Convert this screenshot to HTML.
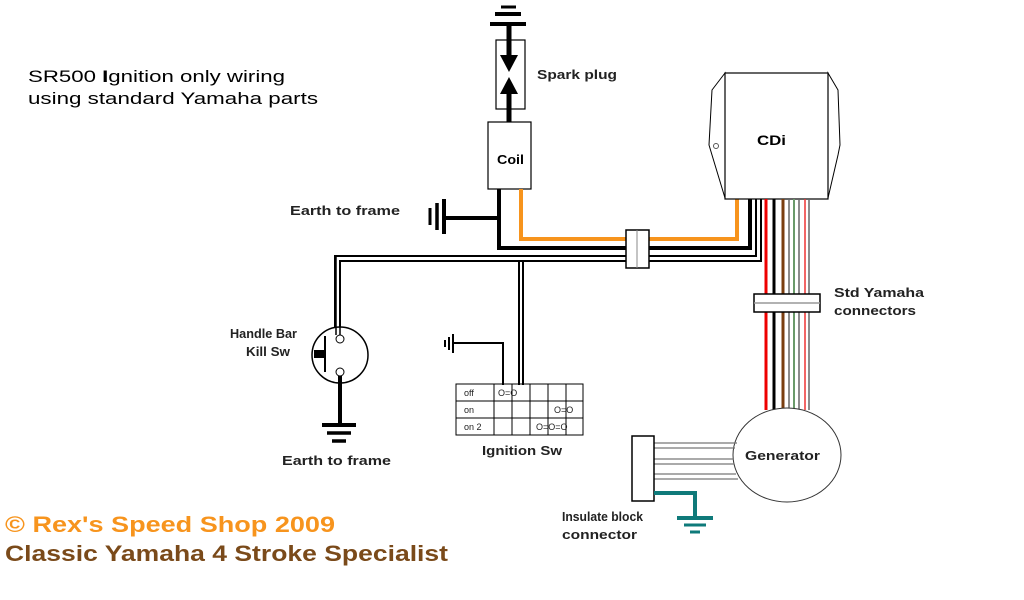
<!DOCTYPE html>
<html><head><meta charset="utf-8"><style>
body{margin:0;background:#fff}
svg{display:block;font-family:"Liberation Sans",sans-serif}
</style></head><body>
<svg width="1024" height="600" viewBox="0 0 1024 600" xmlns="http://www.w3.org/2000/svg">
<rect width="1024" height="600" fill="#fff"/>
<text x="28" y="82" font-size="17" fill="#000" textLength="257" lengthAdjust="spacingAndGlyphs">SR500 <tspan font-weight="bold">I</tspan>gnition only wiring</text>
<text x="28" y="104" font-size="17" fill="#000" textLength="290" lengthAdjust="spacingAndGlyphs">using standard Yamaha parts</text>

<!-- spark plug -->
<line x1="501" y1="7" x2="516" y2="7" stroke="#000" stroke-width="3"/>
<line x1="495" y1="14" x2="521" y2="14" stroke="#000" stroke-width="4"/>
<line x1="490" y1="24" x2="526" y2="24" stroke="#000" stroke-width="4"/>
<line x1="509" y1="24" x2="509" y2="55" stroke="#000" stroke-width="5"/>
<rect x="496" y="40" width="29" height="69" fill="none" stroke="#000" stroke-width="1.2"/>
<polygon points="500,55 518,55 509,72" fill="#000"/>
<polygon points="500,94 518,94 509,77" fill="#000"/>
<line x1="509" y1="92" x2="509" y2="122" stroke="#000" stroke-width="5"/>
<text x="537" y="79" font-size="13" font-weight="bold" fill="#222" textLength="80" lengthAdjust="spacingAndGlyphs">Spark plug</text>

<!-- coil -->
<rect x="488" y="122" width="43" height="67" fill="#fff" stroke="#000" stroke-width="1.2"/>
<text x="497" y="164" font-size="13" font-weight="bold" fill="#000" textLength="27" lengthAdjust="spacingAndGlyphs">Coil</text>

<!-- earth to frame top -->
<text x="290" y="215" font-size="13" font-weight="bold" fill="#222" textLength="110" lengthAdjust="spacingAndGlyphs">Earth to frame</text>
<line x1="430" y1="208" x2="430" y2="225" stroke="#000" stroke-width="3"/>
<line x1="437" y1="203" x2="437" y2="230" stroke="#000" stroke-width="3.5"/>
<line x1="444" y1="199" x2="444" y2="234" stroke="#000" stroke-width="4"/>
<line x1="444" y1="218" x2="499" y2="218" stroke="#000" stroke-width="4"/>

<polyline points="499,189 499,248 750,248 750,198" fill="none" stroke="#000" stroke-width="4"/>
<polyline points="521,189 521,239 737,239 737,198" fill="none" stroke="#f7941d" stroke-width="4"/>
<polyline points="335,335 335,256 756,256 756,198" fill="none" stroke="#000" stroke-width="2"/>
<polyline points="340,335 340,261 761,261 761,198" fill="none" stroke="#000" stroke-width="2"/>
<line x1="519" y1="261" x2="519" y2="385" stroke="#000" stroke-width="2"/>
<line x1="523" y1="261" x2="523" y2="385" stroke="#000" stroke-width="2"/>
<rect x="626" y="230" width="23" height="38" fill="#fff" stroke="#000" stroke-width="1.5"/>
<line x1="637" y1="230" x2="637" y2="268" stroke="#888" stroke-width="1"/>

<!-- CDi -->
<polygon points="725,73 712,90 709,145 712,155 725,198" fill="#fff" stroke="#000" stroke-width="1"/>
<polygon points="828,73 838,90 840,145 838,155 828,198" fill="#fff" stroke="#000" stroke-width="1"/>
<circle cx="716" cy="146" r="2.5" fill="#fff" stroke="#555"/>
<rect x="725" y="73" width="103" height="126" fill="#fff" stroke="#000" stroke-width="1.2"/>
<text x="757" y="145" font-size="14" font-weight="bold" fill="#000" textLength="29" lengthAdjust="spacingAndGlyphs">CDi</text>

<line x1="766" y1="199" x2="766" y2="410" stroke="#e00" stroke-width="3"/>
<line x1="774" y1="199" x2="774" y2="410" stroke="#000" stroke-width="3"/>
<line x1="783" y1="199" x2="783" y2="410" stroke="#7a3e10" stroke-width="3"/>
<line x1="789" y1="199" x2="789" y2="410" stroke="#666" stroke-width="1.5"/>
<line x1="794" y1="199" x2="794" y2="410" stroke="#6a9a6a" stroke-width="2"/>
<line x1="799" y1="199" x2="799" y2="410" stroke="#666" stroke-width="1.5"/>
<line x1="805" y1="199" x2="805" y2="410" stroke="#e33" stroke-width="1.5"/>
<line x1="809" y1="199" x2="809" y2="410" stroke="#666" stroke-width="1.5"/>
<rect x="754" y="294" width="66" height="18" fill="#fff" stroke="#000" stroke-width="1.5"/>
<line x1="754" y1="303" x2="820" y2="303" stroke="#999" stroke-width="1.5"/>
<text x="834" y="297" font-size="13" font-weight="bold" fill="#222" textLength="90" lengthAdjust="spacingAndGlyphs">Std Yamaha</text>
<text x="834" y="315" font-size="13" font-weight="bold" fill="#222" textLength="82" lengthAdjust="spacingAndGlyphs">connectors</text>

<!-- generator -->
<ellipse cx="787" cy="455" rx="54" ry="47" fill="#fff" stroke="#333" stroke-width="1"/>
<text x="745" y="460" font-size="13" font-weight="bold" fill="#222" textLength="75" lengthAdjust="spacingAndGlyphs">Generator</text>
<g stroke="#777" stroke-width="1.2">
<line x1="654" y1="443" x2="737" y2="443"/><line x1="654" y1="448" x2="735" y2="448"/>
<line x1="654" y1="459" x2="734" y2="459"/><line x1="654" y1="464" x2="734" y2="464"/>
<line x1="654" y1="474" x2="736" y2="474"/><line x1="654" y1="479" x2="738" y2="479"/>
</g>
<rect x="632" y="436" width="22" height="65" fill="#fff" stroke="#000" stroke-width="1.5"/>
<polyline points="654,493 695,493 695,518" fill="none" stroke="#0f7a7a" stroke-width="4"/>
<line x1="677" y1="518" x2="713" y2="518" stroke="#0f7a7a" stroke-width="4"/>
<line x1="684" y1="525" x2="706" y2="525" stroke="#0f7a7a" stroke-width="3"/>
<line x1="690" y1="532" x2="700" y2="532" stroke="#0f7a7a" stroke-width="3"/>
<text x="562" y="521" font-size="13" font-weight="bold" fill="#222" textLength="81" lengthAdjust="spacingAndGlyphs">Insulate block</text>
<text x="562" y="539" font-size="13" font-weight="bold" fill="#222" textLength="75" lengthAdjust="spacingAndGlyphs">connector</text>

<!-- kill switch -->
<circle cx="340" cy="355" r="28" fill="#fff" stroke="#000" stroke-width="1.5"/>
<line x1="336" y1="256" x2="336" y2="335" stroke="#000" stroke-width="1.5"/>
<line x1="340" y1="261" x2="340" y2="335" stroke="#000" stroke-width="1.5"/>
<circle cx="340" cy="339" r="4" fill="#fff" stroke="#000" stroke-width="1"/>
<circle cx="340" cy="372" r="4" fill="#fff" stroke="#000" stroke-width="1"/>
<line x1="325" y1="336" x2="325" y2="372" stroke="#000" stroke-width="2"/>
<rect x="314" y="350" width="11" height="8" fill="#000"/>
<line x1="340" y1="376" x2="340" y2="424" stroke="#000" stroke-width="4"/>
<line x1="322" y1="425" x2="356" y2="425" stroke="#000" stroke-width="4"/>
<line x1="327" y1="433" x2="351" y2="433" stroke="#000" stroke-width="3.5"/>
<line x1="332" y1="441" x2="346" y2="441" stroke="#000" stroke-width="3.5"/>
<text x="230" y="338" font-size="13" font-weight="bold" fill="#222" textLength="67" lengthAdjust="spacingAndGlyphs">Handle Bar</text>
<text x="246" y="356" font-size="13" font-weight="bold" fill="#222" textLength="44" lengthAdjust="spacingAndGlyphs">Kill Sw</text>
<text x="282" y="465" font-size="13" font-weight="bold" fill="#222" textLength="109" lengthAdjust="spacingAndGlyphs">Earth to frame</text>

<!-- ignition switch -->
<polyline points="503,385 503,343 453,343" fill="none" stroke="#000" stroke-width="2"/>
<line x1="453" y1="334" x2="453" y2="353" stroke="#000" stroke-width="2"/>
<line x1="449" y1="337" x2="449" y2="350" stroke="#000" stroke-width="2"/>
<line x1="445" y1="340" x2="445" y2="347" stroke="#000" stroke-width="2"/>
<g stroke="#000" stroke-width="1" fill="none">
<rect x="456" y="384" width="127" height="51"/>
<line x1="456" y1="401" x2="583" y2="401"/><line x1="456" y1="418" x2="583" y2="418"/>
<line x1="494" y1="384" x2="494" y2="435"/><line x1="512" y1="384" x2="512" y2="435"/>
<line x1="530" y1="384" x2="530" y2="435"/><line x1="548" y1="384" x2="548" y2="435"/>
<line x1="566" y1="384" x2="566" y2="435"/>
</g>
<g font-size="9" fill="#222">
<text x="464" y="396">off</text><text x="464" y="413">on</text><text x="464" y="430">on 2</text>
<text x="498" y="396">O=O</text>
<text x="554" y="413">O=O</text>
<text x="536" y="430">O=O=O</text>
</g>
<text x="482" y="455" font-size="13" font-weight="bold" fill="#222" textLength="80" lengthAdjust="spacingAndGlyphs">Ignition Sw</text>

<!-- footer -->
<text x="5" y="532" font-size="22" font-weight="bold" fill="#f7941d" textLength="330" lengthAdjust="spacingAndGlyphs">© Rex's Speed Shop 2009</text>
<text x="5" y="561" font-size="22" font-weight="bold" fill="#7a4a1a" textLength="443" lengthAdjust="spacingAndGlyphs">Classic Yamaha 4 Stroke Specialist</text>
</svg>
</body></html>
